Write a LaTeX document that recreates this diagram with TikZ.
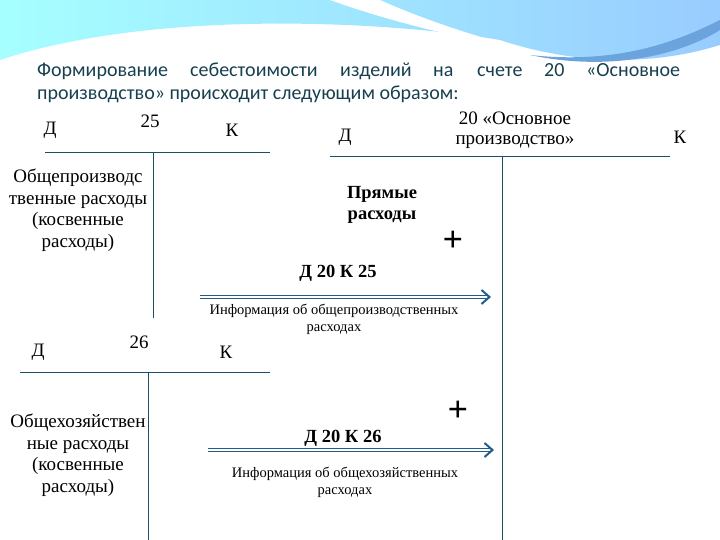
\documentclass[tikz,border=0pt]{standalone}
\usepackage{fontspec}
\setmainfont{Liberation Serif}
\newfontfamily\hdr{Carlito}
\usetikzlibrary{arrows.meta}
\definecolor{ln}{HTML}{1B4F63}
\definecolor{ar}{HTML}{1F5C8C}
\definecolor{hd}{HTML}{17404F}
\tikzset{lbl/.style={inner sep=0pt,font=\fontsize{19}{20}\selectfont},
 side/.style={lbl,align=center,font=\fontsize{19}{21.5}\selectfont},
 bld/.style={lbl,font=\fontsize{18.5}{21}\selectfont\bfseries},
 info/.style={inner sep=0pt,align=center,font=\fontsize{14.5}{17}\selectfont},
 tl/.style={draw=ln,line width=0.9pt},
 dar/.style={draw=ar,double=white,double distance=1.3pt,line width=1.2pt,-{Straight Barb[length=8pt,width=14pt,line width=2pt]}},
 plus/.style={inner sep=0pt,font=\fontsize{36}{36}\selectfont\bfseries},
 hw/.style={inner sep=0pt,anchor=base west,text=hd,font=\hdr\fontsize{20}{22}\selectfont}}
\begin{document}
\begin{tikzpicture}[x=1pt,y=-1pt]
\useasboundingbox (0,0) rectangle (720,540);
% header wave
\shade[left color=cyan!35!white,right color=cyan!50!blue!40!white] (0,0) -- (720,0) -- (720,45) .. controls (640,70) and (560,60) .. (500,40) .. controls (380,20) and (150,10) .. (0,60) -- cycle;
\fill[white] (330,0) .. controls (400,25) and (470,40) .. (520,48) .. controls (470,35) and (420,18) .. (380,0) -- cycle;
\fill[cyan!60!blue!60!white] (530,55) .. controls (620,65) and (680,40) .. (720,20) -- (720,30) .. controls (680,55) and (610,72) .. (530,55) -- cycle;
% header text
\node[hw] (w1) at (37,77) {Формирование};
\node[hw] (w2) at (190,77) {себестоимости};
\node[hw] (w3) at (340,77) {изделий};
\node[hw] (w4) at (433,77) {на};
\node[hw] (w5) at (477,77) {счете};
\node[hw] (w6) at (544,77) {20};
\node[hw] (w7) at (586,77) {«Основное};
\node[hw] (w8) at (37,100) {производство» происходит следующим образом:};
% account 25
\node[lbl] (d25) at (50,130) {Д};
\node[lbl] (n25) at (150,121) {25};
\node[lbl] (k25) at (232,130) {К};
\coordinate (h25a) at (45,152); \coordinate (h25b) at (270,152);
\coordinate (v25a) at (153,152); \coordinate (v25b) at (153,318);
\draw[tl] (h25a) -- (h25b); \draw[tl] (v25a) -- (v25b);
\node[side] (s25) at (78,210) {Общепроизводс\\твенные расходы\\(косвенные\\расходы)};
% account 20
\node[lbl] (d20) at (345,137) {Д};
\node[lbl,align=center] (n20) at (515,130) {20 «Основное\\производство»};
\node[lbl] (k20) at (680,137) {К};
\coordinate (h20a) at (330,156); \coordinate (h20b) at (670,156);
\coordinate (v20a) at (502,156); \coordinate (v20b) at (502,540);
\draw[tl] (h20a) -- (h20b); \draw[tl] (v20a) -- (v20b);
\node[bld,align=center] (pr) at (382,205) {Прямые\\расходы};
\node[plus] (p1) at (453,241) {+};
\node[bld] (e1) at (338,273) {Д 20 К 25};
\coordinate (a1s) at (200,297); \coordinate (a1e) at (491,297);
\draw[dar] (a1s) -- (a1e);
\node[info] (i1) at (334,319) {Информация об общепроизводственных\\расходах};
% account 26
\node[lbl] (d26) at (38,352) {Д};
\node[lbl] (n26) at (139,342) {26};
\node[lbl] (k26) at (226,352) {К};
\coordinate (h26a) at (20,372); \coordinate (h26b) at (270,372);
\coordinate (v26a) at (148,372); \coordinate (v26b) at (148,540);
\draw[tl] (h26a) -- (h26b); \draw[tl] (v26a) -- (v26b);
\node[side] (s26) at (78,455) {Общехозяйствен\\ные расходы\\(косвенные\\расходы)};
\node[plus] (p2) at (458,411) {+};
\node[bld] (e2) at (343,438) {Д 20 К 26};
\coordinate (a2s) at (208,450); \coordinate (a2e) at (494,450);
\draw[dar] (a2s) -- (a2e);
\node[info] (i2) at (345,482) {Информация об общехозяйственных\\расходах};
\end{tikzpicture}
\end{document}
